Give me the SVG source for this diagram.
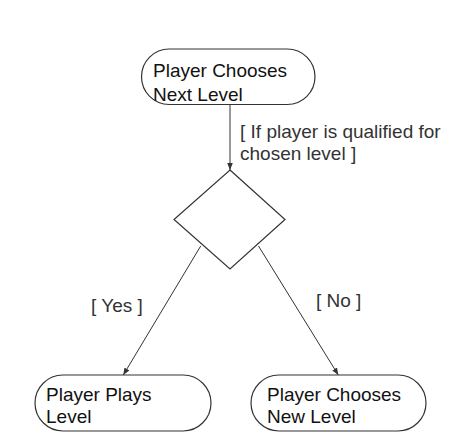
<svg xmlns="http://www.w3.org/2000/svg" width="469" height="444" viewBox="0 0 469 444">
<style>
.node{fill:#fff;stroke:#333;stroke-width:1.2}
.t{font-family:"Liberation Sans",Arial,sans-serif;font-size:19px;fill:#111}
.lbl{font-family:"Liberation Sans",Arial,sans-serif;font-size:19px;fill:#333}
.edge{stroke:#333;stroke-width:1;fill:none;marker-end:url(#arr)}
</style>
<defs>
<marker id="arr" viewBox="0 0 10 10" refX="10" refY="5" markerWidth="7" markerHeight="7" markerUnits="userSpaceOnUse" orient="auto">
<path d="M0,1 L10,5 L0,9 Z" fill="#333"/>
</marker>
</defs>
<rect width="469" height="444" fill="#fff"/>
<g id="connectors">
<line class="edge" x1="230" y1="104.5" x2="230" y2="170"/>
<line class="edge" x1="200.7" y1="246" x2="123.3" y2="375"/>
<line class="edge" x1="258.5" y1="246" x2="338.3" y2="375"/>
<text class="lbl" x="240" y="138">[ If player is qualified for</text>
<text class="lbl" x="240" y="160">chosen level ]</text>
<text class="lbl" x="91" y="311.5">[ Yes ]</text>
<text class="lbl" x="316" y="306.5">[ No ]</text>
</g>
<g id="n1">
<rect class="node" x="141.5" y="49" width="173.5" height="55.5" rx="27.75"/>
<text class="t" x="153" y="77">Player Chooses</text>
<text class="t" x="153" y="100.5">Next Level</text>
</g>
<g id="decision">
<polygon class="node" points="230,170 285,219.5 230,269 174,219.5"/>
</g>
<g id="n2">
<rect class="node" x="35" y="375" width="176" height="56" rx="28"/>
<text class="t" x="46" y="400.5">Player Plays</text>
<text class="t" x="46" y="423">Level</text>
</g>
<g id="n3">
<rect class="node" x="251" y="375" width="175" height="56" rx="28"/>
<text class="t" x="267" y="400.5">Player Chooses</text>
<text class="t" x="267" y="423">New Level</text>
</g>
</svg>
